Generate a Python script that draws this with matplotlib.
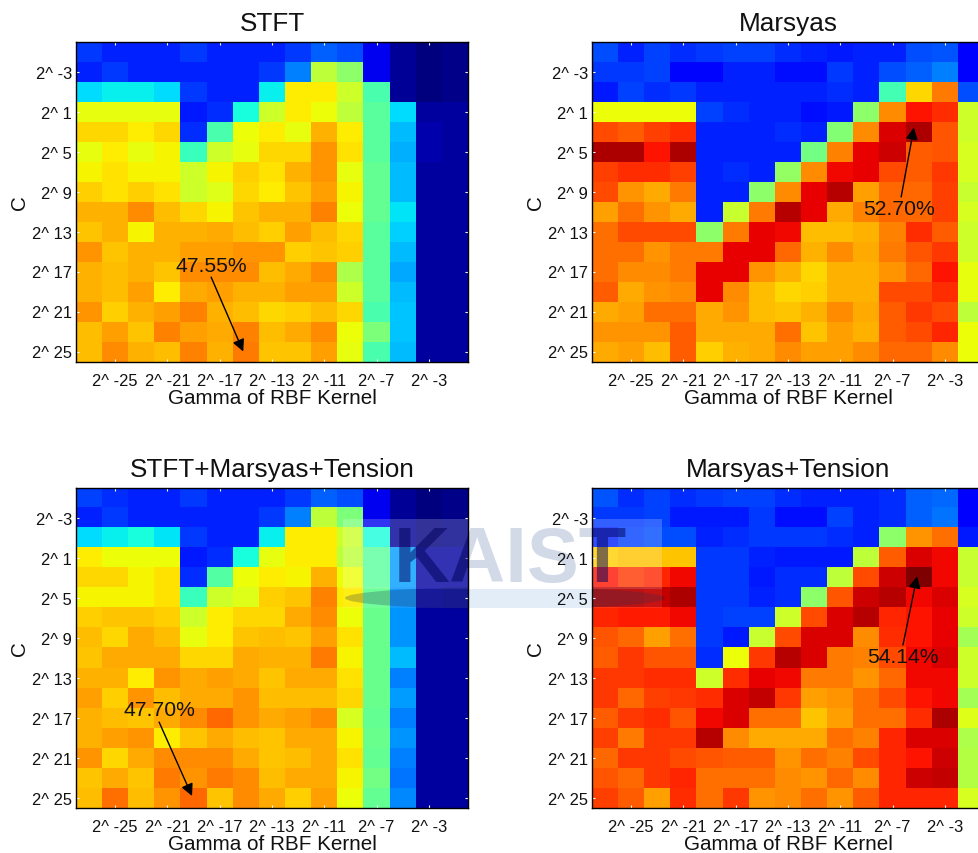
import numpy as np
import matplotlib
matplotlib.use('Agg')
import matplotlib.pyplot as plt
from matplotlib.patches import Rectangle, Ellipse

plt.rcParams['font.family'] = ['Liberation Sans', 'DejaVu Sans']

# values, on the 0-1 scale of the jet colormap
stft = [
    [.18,.16,.16,.16,.18,.16,.16,.16,.18,.22,.20,.10,.02,.00,.01],
    [.16,.18,.16,.16,.16,.16,.16,.18,.25,.58,.52,.10,.02,.00,.01],
    [.34,.36,.36,.34,.18,.16,.16,.36,.66,.66,.60,.44,.02,.00,.01],
    [.63,.63,.63,.63,.15,.17,.38,.60,.66,.64,.58,.46,.34,.03,.03],
    [.68,.68,.66,.68,.17,.44,.64,.66,.63,.72,.66,.46,.31,.04,.03],
    [.63,.66,.63,.65,.42,.60,.63,.68,.68,.75,.67,.46,.30,.04,.03],
    [.65,.67,.65,.65,.60,.65,.69,.67,.72,.75,.63,.47,.31,.03,.03],
    [.69,.67,.69,.67,.60,.62,.68,.66,.70,.74,.65,.47,.31,.03,.03],
    [.72,.72,.76,.71,.68,.65,.70,.72,.72,.77,.64,.47,.35,.03,.03],
    [.70,.72,.65,.72,.72,.73,.71,.69,.74,.71,.68,.46,.33,.03,.03],
    [.75,.70,.72,.72,.74,.74,.75,.75,.69,.70,.69,.46,.31,.03,.03],
    [.72,.71,.72,.70,.76,.76,.76,.71,.73,.76,.56,.46,.29,.03,.03],
    [.72,.71,.74,.66,.73,.74,.72,.72,.74,.74,.60,.46,.31,.03,.03],
    [.75,.69,.72,.74,.77,.72,.71,.68,.69,.71,.68,.44,.32,.03,.03],
    [.71,.74,.70,.77,.74,.73,.77,.71,.73,.76,.64,.50,.32,.03,.03],
    [.71,.76,.72,.71,.77,.72,.78,.70,.70,.74,.63,.44,.31,.03,.03],
]

marsyas = [
    [.20,.16,.19,.17,.18,.19,.19,.17,.16,.15,.16,.16,.20,.21,.12],
    [.18,.18,.19,.13,.13,.16,.16,.14,.14,.18,.16,.20,.22,.25,.11],
    [.15,.19,.17,.18,.16,.16,.16,.16,.16,.17,.16,.43,.68,.78,.20],
    [.64,.64,.64,.64,.19,.17,.16,.16,.14,.15,.52,.76,.89,.86,.60],
    [.83,.81,.84,.86,.16,.16,.16,.17,.16,.51,.76,.92,.96,.82,.60],
    [.96,.96,.89,.96,.16,.16,.16,.16,.49,.77,.91,.93,.81,.82,.61],
    [.84,.86,.86,.84,.16,.17,.16,.53,.76,.90,.91,.83,.81,.85,.61],
    [.83,.75,.73,.78,.16,.16,.52,.76,.91,.95,.74,.80,.80,.84,.59],
    [.74,.79,.75,.73,.16,.59,.78,.95,.91,.73,.77,.80,.80,.84,.61],
    [.79,.83,.83,.83,.52,.78,.91,.90,.71,.71,.72,.77,.86,.81,.60],
    [.79,.79,.75,.78,.78,.91,.91,.80,.72,.76,.73,.78,.82,.85,.60],
    [.79,.76,.76,.78,.91,.91,.75,.72,.68,.72,.72,.75,.80,.89,.63],
    [.81,.73,.75,.76,.91,.76,.71,.68,.69,.72,.72,.83,.83,.86,.63],
    [.73,.74,.79,.79,.73,.75,.71,.70,.72,.76,.73,.81,.85,.83,.58],
    [.75,.75,.75,.81,.73,.73,.73,.79,.70,.74,.72,.81,.83,.87,.64],
    [.73,.74,.71,.81,.69,.72,.73,.76,.74,.74,.76,.80,.80,.76,.64],
]

stft_marsyas_tension = [
    [.19,.17,.16,.16,.18,.16,.16,.16,.18,.22,.20,.10,.02,.00,.01],
    [.16,.18,.16,.16,.16,.16,.16,.18,.25,.58,.50,.10,.02,.00,.01],
    [.34,.36,.38,.35,.18,.16,.16,.36,.66,.66,.60,.38,.02,.00,.01],
    [.66,.64,.64,.64,.15,.17,.38,.63,.66,.66,.58,.46,.28,.03,.03],
    [.68,.68,.65,.67,.17,.45,.64,.66,.65,.72,.64,.46,.28,.03,.03],
    [.65,.65,.65,.67,.42,.60,.62,.69,.70,.77,.66,.47,.27,.04,.03],
    [.69,.70,.70,.69,.60,.66,.68,.68,.73,.76,.64,.48,.27,.03,.03],
    [.71,.68,.73,.71,.63,.66,.70,.71,.70,.74,.67,.48,.27,.03,.03],
    [.70,.73,.73,.73,.68,.68,.73,.72,.72,.78,.65,.48,.31,.03,.03],
    [.72,.72,.66,.75,.73,.74,.73,.70,.73,.73,.67,.48,.25,.03,.03],
    [.74,.69,.75,.71,.73,.73,.75,.71,.71,.71,.68,.48,.28,.03,.03],
    [.72,.71,.70,.73,.76,.80,.75,.73,.74,.76,.61,.47,.25,.03,.03],
    [.72,.74,.75,.66,.70,.73,.71,.70,.73,.73,.65,.48,.27,.03,.03],
    [.75,.68,.73,.76,.76,.76,.73,.70,.71,.73,.67,.47,.25,.03,.03],
    [.70,.73,.70,.78,.75,.78,.76,.71,.73,.73,.65,.49,.24,.03,.03],
    [.71,.79,.71,.75,.80,.70,.76,.73,.69,.74,.64,.47,.26,.03,.03],
]

marsyas_tension = [
    [.21,.17,.19,.17,.18,.19,.19,.17,.16,.16,.16,.17,.22,.23,.12],
    [.18,.18,.19,.15,.15,.15,.18,.14,.14,.19,.16,.17,.22,.24,.11],
    [.16,.19,.20,.20,.16,.17,.18,.18,.18,.17,.16,.52,.75,.79,.15],
    [.69,.70,.70,.70,.18,.18,.16,.15,.15,.15,.58,.81,.92,.90,.59],
    [.89,.85,.87,.90,.18,.18,.15,.17,.17,.58,.83,.93,1.0,.90,.59],
    [.95,.95,.94,.96,.18,.18,.16,.17,.52,.82,.93,.95,.90,.92,.61],
    [.87,.88,.88,.90,.18,.19,.19,.60,.83,.92,.95,.87,.89,.91,.60],
    [.82,.80,.74,.79,.18,.15,.59,.83,.92,.92,.76,.86,.89,.91,.55],
    [.81,.85,.82,.82,.17,.64,.85,.95,.92,.78,.77,.83,.90,.92,.60],
    [.85,.85,.86,.86,.60,.86,.91,.90,.78,.78,.75,.80,.90,.90,.60],
    [.85,.80,.84,.85,.86,.92,.94,.85,.74,.75,.79,.83,.89,.90,.55],
    [.81,.85,.86,.82,.90,.92,.79,.79,.70,.74,.79,.79,.86,.96,.62],
    [.84,.78,.85,.85,.95,.76,.73,.73,.73,.79,.77,.87,.92,.92,.56],
    [.80,.85,.85,.83,.82,.81,.81,.75,.79,.77,.83,.87,.89,.93,.57],
    [.82,.80,.85,.87,.79,.79,.79,.76,.75,.80,.76,.87,.93,.94,.57],
    [.84,.81,.74,.86,.79,.85,.75,.76,.79,.75,.81,.87,.87,.87,.61],
]

titles = ['STFT', 'Marsyas', 'STFT+Marsyas+Tension', 'Marsyas+Tension']
grids = [stft, marsyas, stft_marsyas_tension, marsyas_tension]
x_ticks = [1, 3, 5, 7, 9, 11, 13]
x_labels = ['2^ -25', '2^ -21', '2^ -17', '2^ -13', '2^ -11', '2^ -7', '2^ -3']
y_ticks = [1, 3, 5, 7, 9, 11, 13, 15]
y_labels = ['2^ -3', '2^ 1', '2^ 5', '2^ 9', '2^ 13', '2^ 17', '2^ 21', '2^ 25']
best_labels = ['47.55%', '52.70%', '47.70%', '54.14%']
best_cells = [(5.9, 15.0), (11.82, 3.8), (3.94, 14.9), (11.94, 3.93)]
arrow_tails = [(4.67, 11.28), (11.33, 7.27), (2.68, 11.21), (11.4, 7.36)]
label_spots = [(4.67, 10.7), (11.25, 7.87), (2.68, 10.6), (11.4, 7.92)]

W, H = 979, 854
# axes boxes in pixels: left, top, right, bottom (right column runs off the page)
boxes = [(76, 42.5, 468, 362.5), (592, 42.5, 984, 362.5),
         (76, 488.5, 468, 809), (592, 488.5, 984, 809)]


def watermark_on_panel(fig, ax):
    # the logo lies over the two bottom panels, but under their tick labels
    ft = fig.transFigure
    ax.add_patch(Rectangle((343 / W, 1 - 590 / H), 319 / W, 70 / H, transform=ft,
                           fc='white', ec='none', alpha=0.2))
    ax.add_patch(Ellipse((505 / W, 1 - 599 / H), 320 / W, 22 / H, transform=ft,
                         fc='#101840', ec='none', alpha=0.25))
    ax.add_patch(Rectangle((343 / W, 1 - 609 / H), 319 / W, 19 / H, transform=ft,
                           fc='white', ec='none', alpha=0.08))
    ax.text(510 / W, 1 - 582 / H, 'KAIST', transform=ft, fontsize=56, fontweight='bold',
            color='#00005a', alpha=0.5, ha='center', va='baseline', clip_on=True)


def main():
    fig = plt.figure(figsize=(W / 100, H / 100), dpi=100)

    # part of the logo seen in the white gap, behind the axes
    fig.add_artist(Rectangle((468 / W, 1 - 609 / H), 124 / W, 19 / H,
                             transform=fig.transFigure, fc='#e3edf7', ec='none', zorder=-2))
    fig.text(510 / W, 1 - 582 / H, 'KAIST', fontsize=56, fontweight='bold',
             color='#d2dae8', ha='center', va='baseline', zorder=-1)

    for i in range(4):
        l, t, r, b = boxes[i]
        ax = fig.add_axes([l / W, 1 - b / H, (r - l) / W, (b - t) / H])
        ax.imshow(np.array(grids[i]), cmap='jet', vmin=0, vmax=1,
                  aspect='auto', interpolation='nearest')
        ax.set_xticks(x_ticks)
        ax.set_xticklabels(x_labels)
        ax.set_yticks(y_ticks)
        ax.set_yticklabels(y_labels)
        ax.tick_params(direction='in', length=2, width=0.8, color='white',
                       top=True, right=True, labelsize=11.9, pad=3,
                       labelcolor='#111111')
        ax.tick_params(axis='x', pad=8)
        for s in ax.spines.values():
            s.set_linewidth(1.0)
        ax.set_title(titles[i], fontsize=18.8, color='#111111', pad=8)
        ax.set_xlabel('Gamma of RBF Kernel', fontsize=14.9, color='#111111', labelpad=0)
        ax.set_ylabel('C', fontsize=14.9, color='#111111', labelpad=2)

        ax.annotate('', xy=best_cells[i], xytext=arrow_tails[i],
                    arrowprops=dict(arrowstyle='-|>', color='black', lw=1,
                                    mutation_scale=18, shrinkA=0, shrinkB=0))
        ax.text(label_spots[i][0], label_spots[i][1], best_labels[i], fontsize=15.2,
                ha='center', va='center', color='#111111')
        if i >= 2:
            watermark_on_panel(fig, ax)

    fig.savefig('out.png', dpi=100, facecolor='white')


if __name__ == "__main__":
    main()
